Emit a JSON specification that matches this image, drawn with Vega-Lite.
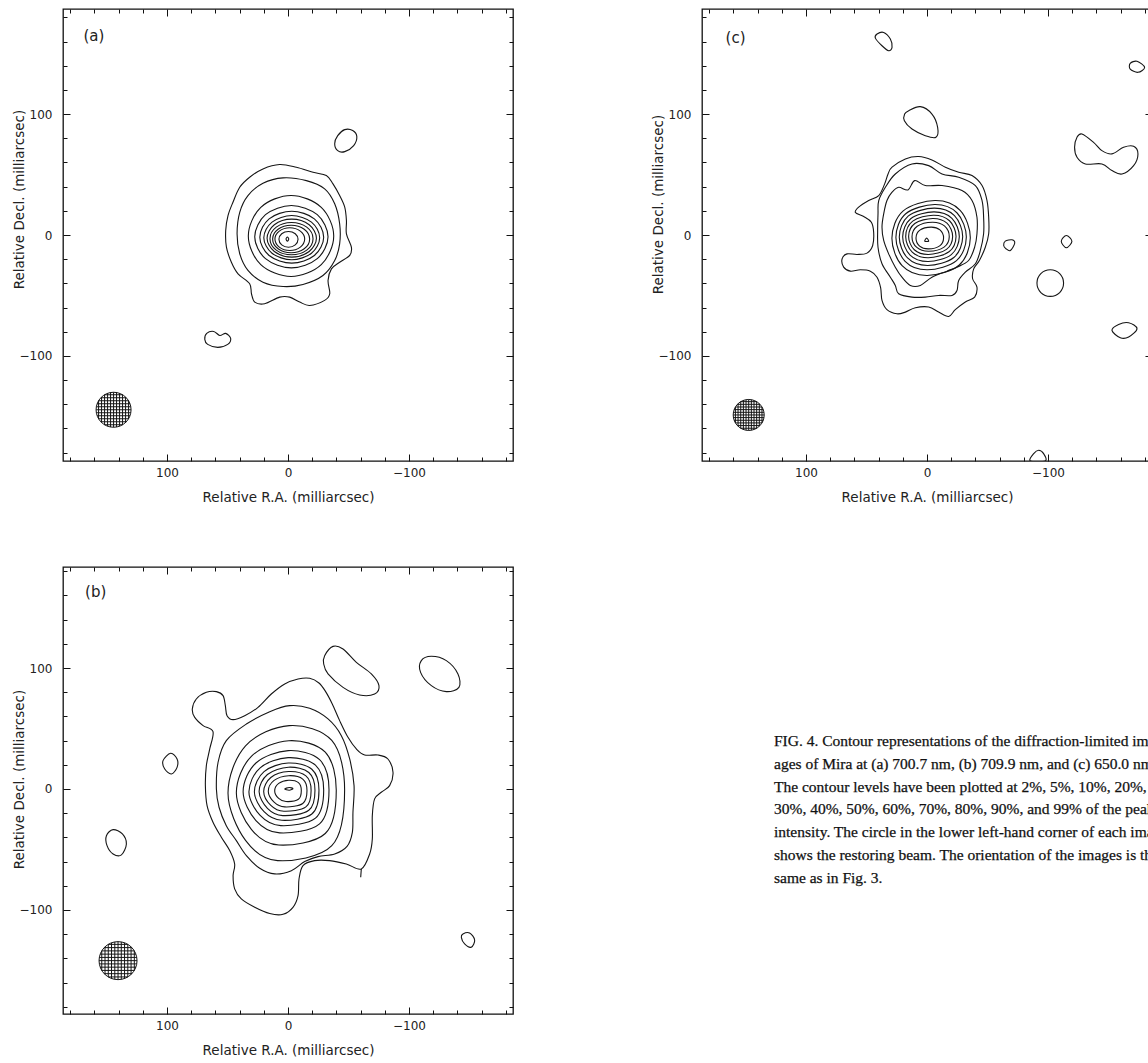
{
"$schema": "https://vega.github.io/schema/vega-lite/v6.json",
"background": "#ffffff",
"padding": {"left": 11, "top": 7, "right": 0, "bottom": 0},
"config": {
 "view": {"stroke": "#111111", "strokeWidth": 1.3},
 "axis": {"domain": false, "grid": false, "ticks": true, "tickColor": "#111111", "tickWidth": 1, "labelFont": "DejaVu Sans", "labelFontSize": 12, "labelColor": "#222222", "labelOverlap": false, "labelFlush": false, "labelBound": false, "titleFont": "DejaVu Sans", "titleFontSize": 13.5, "titleFontWeight": "normal", "titleColor": "#222222"}
},
"datasets": {
 "beam": [{"p":"a","x":144.2,"y":-144.6},{"p":"b","x":140.5,"y":-141.9},{"p":"c","x":147.4,"y":-148.9}],
 "lab": [{"p":"a","t":"(a)","x":160.5,"y":164.5},{"p":"b","t":"(b)","x":159,"y":163},{"p":"c","t":"(c)","x":158.3,"y":163}],
 "cap": [
  {"n":0,"t":"FIG. 4. Contour representations of the diffraction-limited im-"},
  {"n":1,"t":"ages of Mira at (a) 700.7 nm, (b) 709.9 nm, and (c) 650.0 nm."},
  {"n":2,"t":"The contour levels have been plotted at 2%, 5%, 10%, 20%,"},
  {"n":3,"t":"30%, 40%, 50%, 60%, 70%, 80%, 90%, and 99% of the peak"},
  {"n":4,"t":"intensity. The circle in the lower left-hand corner of each image"},
  {"n":5,"t":"shows the restoring beam. The orientation of the images is the"},
  {"n":6,"t":"same as in Fig. 3."}
 ],
 "A": [
  {"c":1,"i":0,"x":6.9,"y":58.3},{"c":1,"i":1,"x":-6.9,"y":56.0},{"c":1,"i":2,"x":-20.7,"y":51.9},{"c":1,"i":3,"x":-31.7,"y":49.2},{"c":1,"i":4,"x":-37.2,"y":42.3},{"c":1,"i":5,"x":-42.7,"y":32.6},{"c":1,"i":6,"x":-46.9,"y":23.0},{"c":1,"i":7,"x":-48.3,"y":12.0},{"c":1,"i":8,"x":-48.3,"y":1.0},{"c":1,"i":9,"x":-52.4,"y":-10.1},{"c":1,"i":10,"x":-51.0,"y":-16.9},{"c":1,"i":11,"x":-42.7,"y":-22.5},{"c":1,"i":12,"x":-35.9,"y":-28.0},{"c":1,"i":13,"x":-33.1,"y":-37.6},{"c":1,"i":14,"x":-34.5,"y":-48.6},{"c":1,"i":15,"x":-30.3,"y":-54.1},{"c":1,"i":16,"x":-17.9,"y":-58.3},{"c":1,"i":17,"x":-9.7,"y":-55.5},{"c":1,"i":18,"x":-1.4,"y":-51.4},{"c":1,"i":19,"x":6.9,"y":-51.4},{"c":1,"i":20,"x":19.3,"y":-56.9},{"c":1,"i":21,"x":27.5,"y":-55.5},{"c":1,"i":22,"x":30.2,"y":-48.6},{"c":1,"i":23,"x":31.7,"y":-40.3},{"c":1,"i":24,"x":41.3,"y":-32.1},{"c":1,"i":25,"x":46.8,"y":-22.5},{"c":1,"i":26,"x":50.9,"y":-10.1},{"c":1,"i":27,"x":51.5,"y":3.7},{"c":1,"i":28,"x":49.6,"y":16.1},{"c":1,"i":29,"x":45.5,"y":27.1},{"c":1,"i":30,"x":39.9,"y":39.5},{"c":1,"i":31,"x":31.7,"y":47.8},{"c":1,"i":32,"x":20.7,"y":54.7},
  {"c":2,"i":0,"x":4.1,"y":47.3},{"c":2,"i":1,"x":-15.2,"y":45.0},{"c":2,"i":2,"x":-30.3,"y":38.2},{"c":2,"i":3,"x":-38.6,"y":25.8},{"c":2,"i":4,"x":-42.7,"y":9.3},{"c":2,"i":5,"x":-42.7,"y":-7.3},{"c":2,"i":6,"x":-38.6,"y":-21.1},{"c":2,"i":7,"x":-28.9,"y":-33.5},{"c":2,"i":8,"x":-12.4,"y":-40.9},{"c":2,"i":9,"x":4.1,"y":-42.6},{"c":2,"i":10,"x":20.7,"y":-39.0},{"c":2,"i":11,"x":33.1,"y":-29.3},{"c":2,"i":12,"x":39.9,"y":-15.5},{"c":2,"i":13,"x":42.1,"y":1.0},{"c":2,"i":14,"x":39.9,"y":18.8},{"c":2,"i":15,"x":33.1,"y":32.6},{"c":2,"i":16,"x":20.7,"y":42.8},
  {"c":3,"i":0,"x":32.8,"y":-0.8},{"c":3,"i":1,"x":22.5,"y":22.9},{"c":3,"i":2,"x":-2.5,"y":32.7},{"c":3,"i":3,"x":-27.5,"y":22.9},{"c":3,"i":4,"x":-37.8,"y":-0.8},{"c":3,"i":5,"x":-27.5,"y":-24.5},{"c":3,"i":6,"x":-2.5,"y":-34.3},{"c":3,"i":7,"x":22.5,"y":-24.5},
  {"c":4,"i":0,"x":27.5,"y":-1.4},{"c":4,"i":1,"x":18.6,"y":16.8},{"c":4,"i":2,"x":-2.8,"y":24.4},{"c":4,"i":3,"x":-24.2,"y":16.8},{"c":4,"i":4,"x":-33.1,"y":-1.4},{"c":4,"i":5,"x":-24.2,"y":-19.6},{"c":4,"i":6,"x":-2.8,"y":-27.2},{"c":4,"i":7,"x":18.6,"y":-19.6},
  {"c":5,"i":0,"x":23.3,"y":-1.8},{"c":5,"i":1,"x":15.6,"y":13.4},{"c":5,"i":2,"x":-3.1,"y":19.7},{"c":5,"i":3,"x":-21.8,"y":13.4},{"c":5,"i":4,"x":-29.5,"y":-1.8},{"c":5,"i":5,"x":-21.8,"y":-17.0},{"c":5,"i":6,"x":-3.1,"y":-23.3},{"c":5,"i":7,"x":15.6,"y":-17.0},
  {"c":6,"i":0,"x":20.0,"y":-2.2},{"c":6,"i":1,"x":13.2,"y":10.7},{"c":6,"i":2,"x":-3.1,"y":16.1},{"c":6,"i":3,"x":-19.4,"y":10.7},{"c":6,"i":4,"x":-26.2,"y":-2.2},{"c":6,"i":5,"x":-19.4,"y":-15.1},{"c":6,"i":6,"x":-3.1,"y":-20.5},{"c":6,"i":7,"x":13.2,"y":-15.1},
  {"c":7,"i":0,"x":17.3,"y":-2.6},{"c":7,"i":1,"x":11.3,"y":8.5},{"c":7,"i":2,"x":-3.1,"y":13.1},{"c":7,"i":3,"x":-17.5,"y":8.5},{"c":7,"i":4,"x":-23.5,"y":-2.6},{"c":7,"i":5,"x":-17.5,"y":-13.7},{"c":7,"i":6,"x":-3.1,"y":-18.3},{"c":7,"i":7,"x":11.3,"y":-13.7},
  {"c":8,"i":0,"x":14.9,"y":-3.0},{"c":8,"i":1,"x":9.7,"y":6.5},{"c":8,"i":2,"x":-2.9,"y":10.4},{"c":8,"i":3,"x":-15.5,"y":6.5},{"c":8,"i":4,"x":-20.7,"y":-3.0},{"c":8,"i":5,"x":-15.5,"y":-12.5},{"c":8,"i":6,"x":-2.9,"y":-16.4},{"c":8,"i":7,"x":9.7,"y":-12.5},
  {"c":9,"i":0,"x":12.7,"y":-3.3},{"c":9,"i":1,"x":8.2,"y":4.8},{"c":9,"i":2,"x":-2.6,"y":8.1},{"c":9,"i":3,"x":-13.4,"y":4.8},{"c":9,"i":4,"x":-17.9,"y":-3.3},{"c":9,"i":5,"x":-13.4,"y":-11.4},{"c":9,"i":6,"x":-2.6,"y":-14.7},{"c":9,"i":7,"x":8.2,"y":-11.4},
  {"c":10,"i":0,"x":10.8,"y":-3.4},{"c":10,"i":1,"x":7.2,"y":3.2},{"c":10,"i":2,"x":-1.5,"y":6.0},{"c":10,"i":3,"x":-10.2,"y":3.2},{"c":10,"i":4,"x":-13.8,"y":-3.4},{"c":10,"i":5,"x":-10.2,"y":-10.0},{"c":10,"i":6,"x":-1.5,"y":-12.8},{"c":10,"i":7,"x":7.2,"y":-10.0},
  {"c":11,"i":0,"x":7.5,"y":-3.6},{"c":11,"i":1,"x":5.2,"y":1.0},{"c":11,"i":2,"x":-0.4,"y":2.9},{"c":11,"i":3,"x":-6.0,"y":1.0},{"c":11,"i":4,"x":-8.3,"y":-3.6},{"c":11,"i":5,"x":-6.0,"y":-8.2},{"c":11,"i":6,"x":-0.4,"y":-10.1},{"c":11,"i":7,"x":5.2,"y":-8.2},
  {"c":12,"i":0,"x":1.6,"y":-3.4},{"c":12,"i":1,"x":0.5,"y":-1.7},{"c":12,"i":2,"x":-0.6,"y":-3.4},{"c":12,"i":3,"x":0.5,"y":-5.1},
  {"c":13,"i":0,"x":-41.1,"y":82.2},{"c":13,"i":1,"x":-46.9,"y":87.2},{"c":13,"i":2,"x":-53.5,"y":86.4},{"c":13,"i":3,"x":-56.9,"y":81.4},{"c":13,"i":4,"x":-54.3,"y":74.0},{"c":13,"i":5,"x":-46.9,"y":69.0},{"c":13,"i":6,"x":-41.1,"y":69.8},{"c":13,"i":7,"x":-38.6,"y":75.6},
  {"c":14,"i":0,"x":67.2,"y":-81.4},{"c":14,"i":1,"x":61.4,"y":-79.8},{"c":14,"i":2,"x":56.4,"y":-83.1},{"c":14,"i":3,"x":51.5,"y":-81.4},{"c":14,"i":4,"x":47.4,"y":-85.5},{"c":14,"i":5,"x":49.8,"y":-90.5},{"c":14,"i":6,"x":58.1,"y":-93.0},{"c":14,"i":7,"x":66.4,"y":-90.5},{"c":14,"i":8,"x":68.8,"y":-86.4}
 ],
 "B": [
  {"c":1,"i":0,"x":62.0,"y":47.4},{"c":1,"i":1,"x":70.2,"y":52.4},{"c":1,"i":2,"x":77.1,"y":59.2},{"c":1,"i":3,"x":79.1,"y":66.1},{"c":1,"i":4,"x":75.8,"y":74.4},{"c":1,"i":5,"x":67.5,"y":79.9},{"c":1,"i":6,"x":59.2,"y":80.5},{"c":1,"i":7,"x":53.7,"y":77.2},{"c":1,"i":8,"x":51.8,"y":68.9},{"c":1,"i":9,"x":50.4,"y":60.6},{"c":1,"i":10,"x":45.4,"y":57.3},{"c":1,"i":11,"x":35.8,"y":60.6},{"c":1,"i":12,"x":24.8,"y":67.5},{"c":1,"i":13,"x":13.8,"y":78.5},{"c":1,"i":14,"x":2.7,"y":86.8},{"c":1,"i":15,"x":-8.3,"y":90.9},{"c":1,"i":16,"x":-17.9,"y":91.5},{"c":1,"i":17,"x":-25.6,"y":87.6},{"c":1,"i":18,"x":-31.1,"y":80.5},{"c":1,"i":19,"x":-36.6,"y":70.3},{"c":1,"i":20,"x":-42.7,"y":56.5},{"c":1,"i":21,"x":-49.6,"y":42.7},{"c":1,"i":22,"x":-56.5,"y":33.1},{"c":1,"i":23,"x":-63.4,"y":28.1},{"c":1,"i":24,"x":-74.4,"y":28.1},{"c":1,"i":25,"x":-82.6,"y":24.8},{"c":1,"i":26,"x":-86.8,"y":13.8},{"c":1,"i":27,"x":-84.0,"y":2.8},{"c":1,"i":28,"x":-77.1,"y":-2.7},{"c":1,"i":29,"x":-71.6,"y":-8.2},{"c":1,"i":30,"x":-69.7,"y":-22.0},{"c":1,"i":31,"x":-69.7,"y":-41.3},{"c":1,"i":32,"x":-67.5,"y":-53.7},{"c":1,"i":33,"x":-60.6,"y":-66.1},{"c":1,"i":34,"x":-48.2,"y":-62.0},{"c":1,"i":35,"x":-34.4,"y":-59.2},{"c":1,"i":36,"x":-22.0,"y":-59.2},{"c":1,"i":37,"x":-12.4,"y":-63.3},{"c":1,"i":38,"x":-9.1,"y":-74.4},{"c":1,"i":39,"x":-8.3,"y":-88.1},{"c":1,"i":40,"x":-4.1,"y":-97.8},{"c":1,"i":41,"x":4.1,"y":-103.6},{"c":1,"i":42,"x":15.1,"y":-103.0},{"c":1,"i":43,"x":27.5,"y":-97.8},{"c":1,"i":44,"x":38.6,"y":-90.9},{"c":1,"i":45,"x":44.1,"y":-82.6},{"c":1,"i":46,"x":45.4,"y":-71.6},{"c":1,"i":47,"x":44.1,"y":-62.0},{"c":1,"i":48,"x":48.2,"y":-50.9},{"c":1,"i":49,"x":55.1,"y":-39.9},{"c":1,"i":50,"x":62.0,"y":-27.5},{"c":1,"i":51,"x":66.9,"y":-13.8},{"c":1,"i":52,"x":68.3,"y":2.8},{"c":1,"i":53,"x":67.5,"y":19.3},{"c":1,"i":54,"x":64.7,"y":33.1},
  {"c":2,"i":0,"x":59.2,"y":0.0},{"c":2,"i":1,"x":57.8,"y":22.1},{"c":2,"i":2,"x":51.0,"y":40.0},{"c":2,"i":3,"x":34.4,"y":53.7},{"c":2,"i":4,"x":15.1,"y":63.9},{"c":2,"i":5,"x":-1.4,"y":68.9},{"c":2,"i":6,"x":-17.9,"y":66.7},{"c":2,"i":7,"x":-33.1,"y":57.9},{"c":2,"i":8,"x":-44.1,"y":44.1},{"c":2,"i":9,"x":-51.0,"y":24.8},{"c":2,"i":10,"x":-54.6,"y":2.8},{"c":2,"i":11,"x":-53.7,"y":-19.3},{"c":2,"i":12,"x":-53.2,"y":-35.8},{"c":2,"i":13,"x":-48.8,"y":-47.4},{"c":2,"i":14,"x":-38.6,"y":-53.7},{"c":2,"i":15,"x":-24.8,"y":-55.9},{"c":2,"i":16,"x":-13.8,"y":-60.0},{"c":2,"i":17,"x":-2.8,"y":-67.5},{"c":2,"i":18,"x":11.0,"y":-70.2},{"c":2,"i":19,"x":23.4,"y":-65.5},{"c":2,"i":20,"x":34.4,"y":-55.1},{"c":2,"i":21,"x":42.7,"y":-42.7},{"c":2,"i":22,"x":51.0,"y":-30.3},{"c":2,"i":23,"x":57.0,"y":-15.1},
  {"c":3,"i":0,"x":49.6,"y":-3.4},{"c":3,"i":1,"x":35.1,"y":35.7},{"c":3,"i":2,"x":-1.0,"y":52.4},{"c":3,"i":3,"x":-36.2,"y":40.1},{"c":3,"i":4,"x":-46.8,"y":-0.6},{"c":3,"i":5,"x":-36.2,"y":-46.9},{"c":3,"i":6,"x":8.6,"y":-59.2},{"c":3,"i":7,"x":35.1,"y":-42.5},
  {"c":4,"i":0,"x":42.7,"y":-3.2},{"c":4,"i":1,"x":30.3,"y":27.0},{"c":4,"i":2,"x":-0.7,"y":39.9},{"c":4,"i":3,"x":-30.8,"y":30.4},{"c":4,"i":4,"x":-39.9,"y":-1.0},{"c":4,"i":5,"x":-30.8,"y":-36.8},{"c":4,"i":6,"x":7.6,"y":-46.3},{"c":4,"i":7,"x":30.3,"y":-33.4},
  {"c":5,"i":0,"x":37.1,"y":-2.3},{"c":5,"i":1,"x":26.5,"y":21.5},{"c":5,"i":2,"x":-0.2,"y":31.7},{"c":5,"i":3,"x":-26.1,"y":24.2},{"c":5,"i":4,"x":-33.9,"y":-0.6},{"c":5,"i":5,"x":-26.1,"y":-28.8},{"c":5,"i":6,"x":6.9,"y":-36.3},{"c":5,"i":7,"x":26.5,"y":-26.1},
  {"c":6,"i":0,"x":32.3,"y":-2.2},{"c":6,"i":1,"x":23.0,"y":17.5},{"c":6,"i":2,"x":-0.1,"y":25.9},{"c":6,"i":3,"x":-22.7,"y":19.7},{"c":6,"i":4,"x":-29.5,"y":-0.8},{"c":6,"i":5,"x":-22.7,"y":-24.1},{"c":6,"i":6,"x":6.0,"y":-30.3},{"c":6,"i":7,"x":23.0,"y":-21.9},
  {"c":7,"i":0,"x":27.8,"y":-2.2},{"c":7,"i":1,"x":19.8,"y":14.4},{"c":7,"i":2,"x":-0.2,"y":21.5},{"c":7,"i":3,"x":-19.7,"y":16.3},{"c":7,"i":4,"x":-25.6,"y":-1.0},{"c":7,"i":5,"x":-19.7,"y":-20.7},{"c":7,"i":6,"x":5.1,"y":-25.9},{"c":7,"i":7,"x":19.8,"y":-18.8},
  {"c":8,"i":0,"x":23.9,"y":-2.0},{"c":8,"i":1,"x":17.0,"y":12.0},{"c":8,"i":2,"x":-0.4,"y":18.0},{"c":8,"i":3,"x":-17.2,"y":13.6},{"c":8,"i":4,"x":-22.3,"y":-1.0},{"c":8,"i":5,"x":-17.2,"y":-17.6},{"c":8,"i":6,"x":4.3,"y":-22.0},{"c":8,"i":7,"x":17.0,"y":-16.0},
  {"c":9,"i":0,"x":20.1,"y":-2.0},{"c":9,"i":1,"x":14.2,"y":9.5},{"c":9,"i":2,"x":-0.5,"y":14.4},{"c":9,"i":3,"x":-14.8,"y":10.8},{"c":9,"i":4,"x":-19.1,"y":-1.2},{"c":9,"i":5,"x":-14.8,"y":-14.8},{"c":9,"i":6,"x":3.4,"y":-18.4},{"c":9,"i":7,"x":14.2,"y":-13.5},
  {"c":10,"i":0,"x":16.3,"y":-1.9},{"c":10,"i":1,"x":11.5,"y":7.1},{"c":10,"i":2,"x":-0.5,"y":11.0},{"c":10,"i":3,"x":-12.2,"y":8.2},{"c":10,"i":4,"x":-15.7,"y":-1.3},{"c":10,"i":5,"x":-12.2,"y":-12.0},{"c":10,"i":6,"x":2.7,"y":-14.8},{"c":10,"i":7,"x":11.5,"y":-10.9},
  {"c":11,"i":0,"x":11.0,"y":-1.6},{"c":11,"i":1,"x":7.7,"y":4.6},{"c":11,"i":2,"x":-0.6,"y":7.2},{"c":11,"i":3,"x":-8.6,"y":5.3},{"c":11,"i":4,"x":-11.0,"y":-1.2},{"c":11,"i":5,"x":-8.6,"y":-8.5},{"c":11,"i":6,"x":1.7,"y":-10.4},{"c":11,"i":7,"x":7.7,"y":-7.8},
  {"c":12,"i":0,"x":2.7,"y":0.0},{"c":12,"i":1,"x":-1.0,"y":1.2},{"c":12,"i":2,"x":-4.1,"y":0.3},{"c":12,"i":3,"x":-1.0,"y":-1.0},
  {"c":13,"i":0,"x":-30.3,"y":110.2},{"c":13,"i":1,"x":-37.2,"y":117.9},{"c":13,"i":2,"x":-45.5,"y":115.7},{"c":13,"i":3,"x":-56.5,"y":104.7},{"c":13,"i":4,"x":-68.9,"y":95.1},{"c":13,"i":5,"x":-75.2,"y":85.4},{"c":13,"i":6,"x":-71.6,"y":78.5},{"c":13,"i":7,"x":-59.2,"y":77.7},{"c":13,"i":8,"x":-45.5,"y":84.0},{"c":13,"i":9,"x":-33.1,"y":95.1},{"c":13,"i":10,"x":-29.5,"y":103.3},
  {"c":14,"i":0,"x":-110.2,"y":106.1},{"c":14,"i":1,"x":-118.5,"y":109.7},{"c":14,"i":2,"x":-130.9,"y":106.1},{"c":14,"i":3,"x":-140.5,"y":95.1},{"c":14,"i":4,"x":-141.3,"y":84.0},{"c":14,"i":5,"x":-130.9,"y":80.5},{"c":14,"i":6,"x":-118.5,"y":85.4},{"c":14,"i":7,"x":-109.6,"y":96.4},
  {"c":15,"i":0,"x":97.0,"y":29.5},{"c":15,"i":1,"x":91.7,"y":24.8},{"c":15,"i":2,"x":91.7,"y":17.9},{"c":15,"i":3,"x":96.4,"y":12.4},{"c":15,"i":4,"x":101.9,"y":16.5},{"c":15,"i":5,"x":103.3,"y":23.4},
  {"c":16,"i":0,"x":144.6,"y":-33.6},{"c":16,"i":1,"x":136.9,"y":-37.2},{"c":16,"i":2,"x":133.6,"y":-45.4},{"c":16,"i":3,"x":137.7,"y":-54.5},{"c":16,"i":4,"x":144.6,"y":-53.7},{"c":16,"i":5,"x":149.6,"y":-46.8},{"c":16,"i":6,"x":150.1,"y":-38.6},
  {"c":17,"i":0,"x":-144.6,"y":-119.8},{"c":17,"i":1,"x":-150.1,"y":-119.0},{"c":17,"i":2,"x":-154.3,"y":-124.8},{"c":17,"i":3,"x":-151.5,"y":-130.8},{"c":17,"i":4,"x":-146.0,"y":-128.1},{"c":17,"i":5,"x":-143.3,"y":-122.6},
  {"c":18,"i":0,"x":-60.6,"y":-66.1},{"c":18,"i":1,"x":-60.1,"y":-73.0}
 ],
 "C": [
  {"c":1,"i":0,"x":28.9,"y":56.1},{"c":1,"i":1,"x":17.9,"y":62.9},{"c":1,"i":2,"x":6.9,"y":64.9},{"c":1,"i":3,"x":-4.1,"y":62.1},{"c":1,"i":4,"x":-15.2,"y":56.1},{"c":1,"i":5,"x":-26.2,"y":51.9},{"c":1,"i":6,"x":-37.2,"y":49.2},{"c":1,"i":7,"x":-45.5,"y":40.9},{"c":1,"i":8,"x":-49.6,"y":28.5},{"c":1,"i":9,"x":-51.0,"y":14.7},{"c":1,"i":10,"x":-51.0,"y":1.0},{"c":1,"i":11,"x":-48.2,"y":-10.1},{"c":1,"i":12,"x":-43.3,"y":-21.1},{"c":1,"i":13,"x":-38.6,"y":-28.0},{"c":1,"i":14,"x":-37.7,"y":-36.2},{"c":1,"i":15,"x":-41.3,"y":-43.1},{"c":1,"i":16,"x":-39.4,"y":-51.4},{"c":1,"i":17,"x":-31.7,"y":-55.5},{"c":1,"i":18,"x":-23.4,"y":-61.8},{"c":1,"i":19,"x":-17.9,"y":-67.4},{"c":1,"i":20,"x":-9.6,"y":-63.8},{"c":1,"i":21,"x":-1.4,"y":-59.6},{"c":1,"i":22,"x":9.6,"y":-60.2},{"c":1,"i":23,"x":17.9,"y":-63.8},{"c":1,"i":24,"x":24.8,"y":-65.2},{"c":1,"i":25,"x":33.1,"y":-61.8},{"c":1,"i":26,"x":37.2,"y":-54.1},{"c":1,"i":27,"x":38.3,"y":-43.7},{"c":1,"i":28,"x":41.3,"y":-34.9},{"c":1,"i":29,"x":46.8,"y":-29.9},{"c":1,"i":30,"x":55.1,"y":-28.8},{"c":1,"i":31,"x":63.4,"y":-29.9},{"c":1,"i":32,"x":68.9,"y":-26.6},{"c":1,"i":33,"x":70.2,"y":-19.7},{"c":1,"i":34,"x":66.1,"y":-15.6},{"c":1,"i":35,"x":57.8,"y":-16.1},{"c":1,"i":36,"x":49.6,"y":-15.0},{"c":1,"i":37,"x":44.9,"y":-8.7},{"c":1,"i":38,"x":44.1,"y":2.3},{"c":1,"i":39,"x":46.0,"y":10.6},{"c":1,"i":40,"x":52.3,"y":15.3},{"c":1,"i":41,"x":59.2,"y":18.6},{"c":1,"i":42,"x":56.5,"y":23.0},{"c":1,"i":43,"x":48.2,"y":28.5},{"c":1,"i":44,"x":39.9,"y":32.6},{"c":1,"i":45,"x":35.0,"y":42.3},{"c":1,"i":46,"x":32.2,"y":50.5},
  {"c":2,"i":0,"x":12.4,"y":58.8},{"c":2,"i":1,"x":-1.4,"y":57.4},{"c":2,"i":2,"x":-12.4,"y":50.5},{"c":2,"i":3,"x":-26.2,"y":47.8},{"c":2,"i":4,"x":-40.0,"y":40.9},{"c":2,"i":5,"x":-45.5,"y":28.5},{"c":2,"i":6,"x":-46.8,"y":14.7},{"c":2,"i":7,"x":-46.8,"y":1.0},{"c":2,"i":8,"x":-44.1,"y":-12.8},{"c":2,"i":9,"x":-40.0,"y":-23.8},{"c":2,"i":10,"x":-31.7,"y":-30.7},{"c":2,"i":11,"x":-26.2,"y":-37.6},{"c":2,"i":12,"x":-24.8,"y":-45.9},{"c":2,"i":13,"x":-20.7,"y":-50.0},{"c":2,"i":14,"x":-9.6,"y":-50.0},{"c":2,"i":15,"x":1.4,"y":-51.4},{"c":2,"i":16,"x":12.4,"y":-51.4},{"c":2,"i":17,"x":23.4,"y":-48.6},{"c":2,"i":18,"x":26.2,"y":-41.7},{"c":2,"i":19,"x":30.3,"y":-34.9},{"c":2,"i":20,"x":37.2,"y":-23.8},{"c":2,"i":21,"x":40.5,"y":-10.1},{"c":2,"i":22,"x":40.8,"y":3.7},{"c":2,"i":23,"x":40.5,"y":17.5},{"c":2,"i":24,"x":39.9,"y":28.5},{"c":2,"i":25,"x":34.4,"y":39.5},{"c":2,"i":26,"x":26.2,"y":50.5},
  {"c":3,"i":0,"x":23.4,"y":39.5},{"c":3,"i":1,"x":15.7,"y":37.3},{"c":3,"i":2,"x":10.2,"y":45.0},{"c":3,"i":3,"x":1.4,"y":40.9},{"c":3,"i":4,"x":-12.4,"y":40.9},{"c":3,"i":5,"x":-28.9,"y":36.8},{"c":3,"i":6,"x":-37.2,"y":28.5},{"c":3,"i":7,"x":-41.3,"y":14.7},{"c":3,"i":8,"x":-41.3,"y":1.0},{"c":3,"i":9,"x":-39.4,"y":-10.1},{"c":3,"i":10,"x":-34.4,"y":-21.1},{"c":3,"i":11,"x":-24.8,"y":-26.6},{"c":3,"i":12,"x":-16.5,"y":-29.9},{"c":3,"i":13,"x":-4.1,"y":-34.9},{"c":3,"i":14,"x":5.5,"y":-41.7},{"c":3,"i":15,"x":13.8,"y":-41.7},{"c":3,"i":16,"x":20.7,"y":-34.9},{"c":3,"i":17,"x":26.2,"y":-26.6},{"c":3,"i":18,"x":31.7,"y":-15.6},{"c":3,"i":19,"x":35.8,"y":-4.5},{"c":3,"i":20,"x":37.2,"y":6.5},{"c":3,"i":21,"x":35.8,"y":17.5},{"c":3,"i":22,"x":33.1,"y":28.5},{"c":3,"i":23,"x":28.9,"y":35.4},
  {"c":4,"i":0,"x":29.0,"y":-2.5},{"c":4,"i":1,"x":19.9,"y":19.8},{"c":4,"i":2,"x":-6.6,"y":28.5},{"c":4,"i":3,"x":-27.4,"y":20.4},{"c":4,"i":4,"x":-35.8,"y":-2.5},{"c":4,"i":5,"x":-26.7,"y":-24.8},{"c":4,"i":6,"x":-0.2,"y":-33.5},{"c":4,"i":7,"x":20.6,"y":-25.4},
  {"c":5,"i":0,"x":25.7,"y":-1.8},{"c":5,"i":1,"x":17.6,"y":17.6},{"c":5,"i":2,"x":-6.3,"y":25.2},{"c":5,"i":3,"x":-24.9,"y":18.2},{"c":5,"i":4,"x":-32.5,"y":-1.8},{"c":5,"i":5,"x":-24.4,"y":-21.2},{"c":5,"i":6,"x":-0.5,"y":-28.8},{"c":5,"i":7,"x":18.1,"y":-21.8},
  {"c":6,"i":0,"x":22.9,"y":-1.5},{"c":6,"i":1,"x":15.6,"y":15.6},{"c":6,"i":2,"x":-5.9,"y":22.2},{"c":6,"i":3,"x":-22.7,"y":16.0},{"c":6,"i":4,"x":-29.5,"y":-1.5},{"c":6,"i":5,"x":-22.2,"y":-18.6},{"c":6,"i":6,"x":-0.7,"y":-25.2},{"c":6,"i":7,"x":16.1,"y":-19.0},
  {"c":7,"i":0,"x":20.1,"y":-1.4},{"c":7,"i":1,"x":13.5,"y":13.4},{"c":7,"i":2,"x":-5.6,"y":19.1},{"c":7,"i":3,"x":-20.6,"y":13.8},{"c":7,"i":4,"x":-26.7,"y":-1.4},{"c":7,"i":5,"x":-20.1,"y":-16.2},{"c":7,"i":6,"x":-1.0,"y":-21.9},{"c":7,"i":7,"x":14.0,"y":-16.6},
  {"c":8,"i":0,"x":17.6,"y":-1.2},{"c":8,"i":1,"x":11.8,"y":11.5},{"c":8,"i":2,"x":-5.3,"y":16.4},{"c":8,"i":3,"x":-18.6,"y":11.8},{"c":8,"i":4,"x":-24.0,"y":-1.2},{"c":8,"i":5,"x":-18.2,"y":-13.9},{"c":8,"i":6,"x":-1.1,"y":-18.8},{"c":8,"i":7,"x":12.2,"y":-14.2},
  {"c":9,"i":0,"x":15.2,"y":-1.2},{"c":9,"i":1,"x":10.1,"y":9.5},{"c":9,"i":2,"x":-4.8,"y":13.7},{"c":9,"i":3,"x":-16.5,"y":9.8},{"c":9,"i":4,"x":-21.2,"y":-1.2},{"c":9,"i":5,"x":-16.1,"y":-11.9},{"c":9,"i":6,"x":-1.2,"y":-16.1},{"c":9,"i":7,"x":10.5,"y":-12.2},
  {"c":10,"i":0,"x":12.4,"y":-1.4},{"c":10,"i":1,"x":8.1,"y":7.2},{"c":10,"i":2,"x":-4.5,"y":10.6},{"c":10,"i":3,"x":-14.4,"y":7.5},{"c":10,"i":4,"x":-18.4,"y":-1.4},{"c":10,"i":5,"x":-14.1,"y":-10.0},{"c":10,"i":6,"x":-1.5,"y":-13.4},{"c":10,"i":7,"x":8.4,"y":-10.3},
  {"c":11,"i":0,"x":9.1,"y":-2.5},{"c":11,"i":1,"x":5.9,"y":4.0},{"c":11,"i":2,"x":-3.4,"y":6.5},{"c":11,"i":3,"x":-10.7,"y":4.2},{"c":11,"i":4,"x":-13.7,"y":-2.5},{"c":11,"i":5,"x":-10.5,"y":-9.0},{"c":11,"i":6,"x":-1.2,"y":-11.5},{"c":11,"i":7,"x":6.1,"y":-9.2},
  {"c":12,"i":0,"x":1.9,"y":-5.1},{"c":12,"i":1,"x":0.3,"y":-2.6},{"c":12,"i":2,"x":-1.4,"y":-5.1},
  {"c":13,"i":0,"x":41.3,"y":166.3},{"c":13,"i":1,"x":35.8,"y":167.6},{"c":13,"i":2,"x":30.3,"y":162.1},{"c":13,"i":3,"x":28.9,"y":155.2},{"c":13,"i":4,"x":31.7,"y":152.5},{"c":13,"i":5,"x":37.2,"y":156.6},{"c":13,"i":6,"x":42.7,"y":162.9},
  {"c":14,"i":0,"x":-168.0,"y":142.0},{"c":14,"i":1,"x":-173.6,"y":143.7},{"c":14,"i":2,"x":-179.9,"y":138.7},{"c":14,"i":3,"x":-174.4,"y":134.6},{"c":14,"i":4,"x":-168.0,"y":137.3},
  {"c":15,"i":0,"x":15.1,"y":102.9},{"c":15,"i":1,"x":5.5,"y":106.2},{"c":15,"i":2,"x":-4.1,"y":100.1},{"c":15,"i":3,"x":-8.8,"y":89.1},{"c":15,"i":4,"x":-7.4,"y":80.9},{"c":15,"i":5,"x":1.4,"y":82.2},{"c":15,"i":6,"x":12.4,"y":87.7},{"c":15,"i":7,"x":18.7,"y":94.6},{"c":15,"i":8,"x":18.5,"y":100.1},
  {"c":16,"i":0,"x":-124.0,"y":80.9},{"c":16,"i":1,"x":-128.1,"y":83.6},{"c":16,"i":2,"x":-137.7,"y":76.7},{"c":16,"i":3,"x":-144.6,"y":69.8},{"c":16,"i":4,"x":-152.9,"y":67.1},{"c":16,"i":5,"x":-162.5,"y":72.6},{"c":16,"i":6,"x":-170.8,"y":73.4},{"c":16,"i":7,"x":-174.4,"y":67.1},{"c":16,"i":8,"x":-170.8,"y":57.4},{"c":16,"i":9,"x":-161.2,"y":50.5},{"c":16,"i":10,"x":-152.9,"y":53.3},{"c":16,"i":11,"x":-144.6,"y":58.8},{"c":16,"i":12,"x":-130.9,"y":58.8},{"c":16,"i":13,"x":-124.0,"y":64.3},{"c":16,"i":14,"x":-122.0,"y":72.6},
  {"c":17,"i":0,"x":-64.7,"y":-5.1},{"c":17,"i":1,"x":-70.3,"y":-4.0},{"c":17,"i":2,"x":-72.5,"y":-6.8},{"c":17,"i":3,"x":-68.9,"y":-12.8},{"c":17,"i":4,"x":-65.3,"y":-11.4},{"c":17,"i":5,"x":-63.4,"y":-8.7},
  {"c":18,"i":0,"x":-115.2,"y":-0.4},{"c":18,"i":1,"x":-119.8,"y":-5.1},{"c":18,"i":2,"x":-115.2,"y":-10.6},{"c":18,"i":3,"x":-111.0,"y":-5.1},
  {"c":19,"i":0,"x":-90.9,"y":-39.8},{"c":19,"i":1,"x":-94.1,"y":-32.0},{"c":19,"i":2,"x":-101.9,"y":-28.8},{"c":19,"i":3,"x":-109.7,"y":-32.0},{"c":19,"i":4,"x":-112.9,"y":-39.8},{"c":19,"i":5,"x":-109.7,"y":-47.6},{"c":19,"i":6,"x":-101.9,"y":-50.8},{"c":19,"i":7,"x":-94.1,"y":-47.6},
  {"c":20,"i":0,"x":-152.9,"y":-78.9},{"c":20,"i":1,"x":-158.4,"y":-74.0},{"c":20,"i":2,"x":-166.7,"y":-72.6},{"c":20,"i":3,"x":-173.6,"y":-77.5},{"c":20,"i":4,"x":-166.7,"y":-84.4},{"c":20,"i":5,"x":-159.8,"y":-85.0},
  {"c":21,"i":0,"x":-85.4,"y":-186.9},{"c":21,"i":1,"x":-88.2,"y":-180.9},{"c":21,"i":2,"x":-92.3,"y":-178.1},{"c":21,"i":3,"x":-96.4,"y":-180.9},{"c":21,"i":4,"x":-97.8,"y":-186.9}
 ]
},
"spacing": 59,
"vconcat": [
 {"spacing": 135, "hconcat": [
  {"width": 450, "height": 452,
   "layer": [
    {"data": {"name": "A"}, "mark": {"type": "line", "interpolate": "cardinal-closed", "color": "#151515", "strokeWidth": 1.1, "clip": true},
     "encoding": {
      "x": {"field": "x", "type": "quantitative", "scale": {"domain": [-186, 186], "reverse": true, "nice": false, "zero": false},
            "axis": {"orient": "bottom", "title": "Relative R.A. (milliarcsec)", "values": [-180,-160,-140,-120,-100,-80,-60,-40,-20,0,20,40,60,80,100,120,140,160,180], "labelExpr": "datum.value === 100 ? '100' : datum.value === 0 ? '0' : datum.value === -100 ? '−100' : ''", "tickSize": {"condition": {"test": "datum.value % 100 === 0", "value": -7}, "value": -4}, "labelPadding": 13.5, "titlePadding": 9}},
      "y": {"field": "y", "type": "quantitative", "scale": {"domain": [-187, 187], "nice": false, "zero": false},
            "axis": {"orient": "left", "title": "Relative Decl. (milliarcsec)", "values": [-180,-160,-140,-120,-100,-80,-60,-40,-20,0,20,40,60,80,100,120,140,160,180], "labelExpr": "datum.value === 100 ? '100' : datum.value === 0 ? '0' : datum.value === -100 ? '−100' : ''", "tickSize": {"condition": {"test": "datum.value % 100 === 0", "value": -7}, "value": -4}, "labelPadding": 18, "titlePadding": -7, "titleY": 190}},
      "detail": {"field": "c", "type": "nominal"},
      "order": {"field": "i", "type": "quantitative"}}},
    {"data": {"name": "beam"}, "transform": [{"filter": "datum.p === 'a'"}],
     "mark": {"type": "point", "shape": "M1,0C1,0.552,0.552,1,0,1C-0.552,1,-1,0.552,-1,0C-1,-0.552,-0.552,-1,0,-1C0.552,-1,1,-0.552,1,0ZM-1,0L1,0M-0.985,-0.171L0.985,-0.171M-0.985,0.171L0.985,0.171M-0.939,-0.343L0.939,-0.343M-0.939,0.343L0.939,0.343M-0.858,-0.514L0.858,-0.514M-0.858,0.514L0.858,0.514M-0.728,-0.686L0.728,-0.686M-0.728,0.686L0.728,0.686M-0.515,-0.857L0.515,-0.857M-0.515,0.857L0.515,0.857M0,-1L0,1M-0.171,-0.985L-0.171,0.985M0.171,-0.985L0.171,0.985M-0.343,-0.939L-0.343,0.939M0.343,-0.939L0.343,0.939M-0.514,-0.858L-0.514,0.858M0.514,-0.858L0.514,0.858M-0.686,-0.728L-0.686,0.728M0.686,-0.728L0.686,0.728M-0.857,-0.515L-0.857,0.515M0.857,-0.515L0.857,0.515", "size": 1225, "filled": false, "stroke": "#151515", "strokeWidth": 1, "opacity": 1},
     "encoding": {
      "x": {"field": "x", "type": "quantitative", "scale": {"domain": [-186, 186], "reverse": true, "nice": false, "zero": false},
            "axis": {"orient": "top", "labels": false, "title": null, "values": [-180,-160,-140,-120,-100,-80,-60,-40,-20,0,20,40,60,80,100,120,140,160,180], "tickSize": {"condition": {"test": "datum.value % 100 === 0", "value": -7}, "value": -4}}},
      "y": {"field": "y", "type": "quantitative", "scale": {"domain": [-187, 187], "nice": false, "zero": false},
            "axis": {"orient": "right", "labels": false, "title": null, "values": [-180,-160,-140,-120,-100,-80,-60,-40,-20,0,20,40,60,80,100,120,140,160,180], "tickSize": {"condition": {"test": "datum.value % 100 === 0", "value": -7}, "value": -4}}}}},
    {"data": {"name": "lab"}, "transform": [{"filter": "datum.p === 'a'"}],
     "mark": {"type": "text", "font": "DejaVu Sans", "fontSize": 15, "color": "#222222", "align": "center", "baseline": "middle"},
     "encoding": {
      "x": {"field": "x", "type": "quantitative", "scale": {"domain": [-186, 186], "reverse": true, "nice": false, "zero": false}, "axis": null},
      "y": {"field": "y", "type": "quantitative", "scale": {"domain": [-187, 187], "nice": false, "zero": false}, "axis": null},
      "text": {"field": "t"}}}
   ],
   "resolve": {"axis": {"x": "independent", "y": "independent"}}
  },
  {"width": 450, "height": 452,
   "layer": [
    {"data": {"name": "C"}, "mark": {"type": "line", "interpolate": "cardinal-closed", "color": "#151515", "strokeWidth": 1.1, "clip": true},
     "encoding": {
      "x": {"field": "x", "type": "quantitative", "scale": {"domain": [-186, 186], "reverse": true, "nice": false, "zero": false},
            "axis": {"orient": "bottom", "title": "Relative R.A. (milliarcsec)", "values": [-180,-160,-140,-120,-100,-80,-60,-40,-20,0,20,40,60,80,100,120,140,160,180], "labelExpr": "datum.value === 100 ? '100' : datum.value === 0 ? '0' : datum.value === -100 ? '−100' : ''", "tickSize": {"condition": {"test": "datum.value % 100 === 0", "value": -7}, "value": -4}, "labelPadding": 13.5, "titlePadding": 9}},
      "y": {"field": "y", "type": "quantitative", "scale": {"domain": [-187, 187], "nice": false, "zero": false},
            "axis": {"orient": "left", "title": "Relative Decl. (milliarcsec)", "values": [-180,-160,-140,-120,-100,-80,-60,-40,-20,0,20,40,60,80,100,120,140,160,180], "labelExpr": "datum.value === 100 ? '100' : datum.value === 0 ? '0' : datum.value === -100 ? '−100' : ''", "tickSize": {"condition": {"test": "datum.value % 100 === 0", "value": -7}, "value": -4}, "labelPadding": 18, "titlePadding": -7, "titleY": 195}},
      "detail": {"field": "c", "type": "nominal"},
      "order": {"field": "i", "type": "quantitative"}}},
    {"data": {"name": "beam"}, "transform": [{"filter": "datum.p === 'c'"}],
     "mark": {"type": "point", "shape": "M1,0C1,0.552,0.552,1,0,1C-0.552,1,-1,0.552,-1,0C-1,-0.552,-0.552,-1,0,-1C0.552,-1,1,-0.552,1,0ZM-1,0L1,0M-0.985,-0.171L0.985,-0.171M-0.985,0.171L0.985,0.171M-0.939,-0.343L0.939,-0.343M-0.939,0.343L0.939,0.343M-0.858,-0.514L0.858,-0.514M-0.858,0.514L0.858,0.514M-0.728,-0.686L0.728,-0.686M-0.728,0.686L0.728,0.686M-0.515,-0.857L0.515,-0.857M-0.515,0.857L0.515,0.857M0,-1L0,1M-0.171,-0.985L-0.171,0.985M0.171,-0.985L0.171,0.985M-0.343,-0.939L-0.343,0.939M0.343,-0.939L0.343,0.939M-0.514,-0.858L-0.514,0.858M0.514,-0.858L0.514,0.858M-0.686,-0.728L-0.686,0.728M0.686,-0.728L0.686,0.728M-0.857,-0.515L-0.857,0.515M0.857,-0.515L0.857,0.515", "size": 961, "filled": false, "stroke": "#151515", "strokeWidth": 1, "opacity": 1},
     "encoding": {
      "x": {"field": "x", "type": "quantitative", "scale": {"domain": [-186, 186], "reverse": true, "nice": false, "zero": false},
            "axis": {"orient": "top", "labels": false, "title": null, "values": [-180,-160,-140,-120,-100,-80,-60,-40,-20,0,20,40,60,80,100,120,140,160,180], "tickSize": {"condition": {"test": "datum.value % 100 === 0", "value": -7}, "value": -4}}},
      "y": {"field": "y", "type": "quantitative", "scale": {"domain": [-187, 187], "nice": false, "zero": false},
            "axis": {"orient": "right", "labels": false, "title": null, "values": [-180,-160,-140,-120,-100,-80,-60,-40,-20,0,20,40,60,80,100,120,140,160,180], "tickSize": {"condition": {"test": "datum.value % 100 === 0", "value": -7}, "value": -4}}}}},
    {"data": {"name": "lab"}, "transform": [{"filter": "datum.p === 'c'"}],
     "mark": {"type": "text", "font": "DejaVu Sans", "fontSize": 15, "color": "#222222", "align": "center", "baseline": "middle"},
     "encoding": {
      "x": {"field": "x", "type": "quantitative", "scale": {"domain": [-186, 186], "reverse": true, "nice": false, "zero": false}, "axis": null},
      "y": {"field": "y", "type": "quantitative", "scale": {"domain": [-187, 187], "nice": false, "zero": false}, "axis": null},
      "text": {"field": "t"}}}
   ],
   "resolve": {"axis": {"x": "independent", "y": "independent"}}
  }
 ]},
 {"spacing": 259, "hconcat": [
  {"width": 450, "height": 447,
   "layer": [
    {"data": {"name": "B"}, "mark": {"type": "line", "interpolate": "cardinal-closed", "color": "#151515", "strokeWidth": 1.1, "clip": true},
     "encoding": {
      "x": {"field": "x", "type": "quantitative", "scale": {"domain": [-186, 186], "reverse": true, "nice": false, "zero": false},
            "axis": {"orient": "bottom", "title": "Relative R.A. (milliarcsec)", "values": [-180,-160,-140,-120,-100,-80,-60,-40,-20,0,20,40,60,80,100,120,140,160,180], "labelExpr": "datum.value === 100 ? '100' : datum.value === 0 ? '0' : datum.value === -100 ? '−100' : ''", "tickSize": {"condition": {"test": "datum.value % 100 === 0", "value": -7}, "value": -4}, "labelPadding": 13.5, "titlePadding": 9}},
      "y": {"field": "y", "type": "quantitative", "scale": {"domain": [-186, 183.5], "nice": false, "zero": false},
            "axis": {"orient": "left", "title": "Relative Decl. (milliarcsec)", "values": [-180,-160,-140,-120,-100,-80,-60,-40,-20,0,20,40,60,80,100,120,140,160,180], "labelExpr": "datum.value === 100 ? '100' : datum.value === 0 ? '0' : datum.value === -100 ? '−100' : ''", "tickSize": {"condition": {"test": "datum.value % 100 === 0", "value": -7}, "value": -4}, "labelPadding": 18, "titlePadding": -7, "titleY": 212}},
      "detail": {"field": "c", "type": "nominal"},
      "order": {"field": "i", "type": "quantitative"}}},
    {"data": {"name": "beam"}, "transform": [{"filter": "datum.p === 'b'"}],
     "mark": {"type": "point", "shape": "M1,0C1,0.552,0.552,1,0,1C-0.552,1,-1,0.552,-1,0C-1,-0.552,-0.552,-1,0,-1C0.552,-1,1,-0.552,1,0ZM-1,0L1,0M-0.985,-0.171L0.985,-0.171M-0.985,0.171L0.985,0.171M-0.939,-0.343L0.939,-0.343M-0.939,0.343L0.939,0.343M-0.858,-0.514L0.858,-0.514M-0.858,0.514L0.858,0.514M-0.728,-0.686L0.728,-0.686M-0.728,0.686L0.728,0.686M-0.515,-0.857L0.515,-0.857M-0.515,0.857L0.515,0.857M0,-1L0,1M-0.171,-0.985L-0.171,0.985M0.171,-0.985L0.171,0.985M-0.343,-0.939L-0.343,0.939M0.343,-0.939L0.343,0.939M-0.514,-0.858L-0.514,0.858M0.514,-0.858L0.514,0.858M-0.686,-0.728L-0.686,0.728M0.686,-0.728L0.686,0.728M-0.857,-0.515L-0.857,0.515M0.857,-0.515L0.857,0.515", "size": 1444, "filled": false, "stroke": "#151515", "strokeWidth": 1, "opacity": 1},
     "encoding": {
      "x": {"field": "x", "type": "quantitative", "scale": {"domain": [-186, 186], "reverse": true, "nice": false, "zero": false},
            "axis": {"orient": "top", "labels": false, "title": null, "values": [-180,-160,-140,-120,-100,-80,-60,-40,-20,0,20,40,60,80,100,120,140,160,180], "tickSize": {"condition": {"test": "datum.value % 100 === 0", "value": -7}, "value": -4}}},
      "y": {"field": "y", "type": "quantitative", "scale": {"domain": [-186, 183.5], "nice": false, "zero": false},
            "axis": {"orient": "right", "labels": false, "title": null, "values": [-180,-160,-140,-120,-100,-80,-60,-40,-20,0,20,40,60,80,100,120,140,160,180], "tickSize": {"condition": {"test": "datum.value % 100 === 0", "value": -7}, "value": -4}}}}},
    {"data": {"name": "lab"}, "transform": [{"filter": "datum.p === 'b'"}],
     "mark": {"type": "text", "font": "DejaVu Sans", "fontSize": 15, "color": "#222222", "align": "center", "baseline": "middle"},
     "encoding": {
      "x": {"field": "x", "type": "quantitative", "scale": {"domain": [-186, 186], "reverse": true, "nice": false, "zero": false}, "axis": null},
      "y": {"field": "y", "type": "quantitative", "scale": {"domain": [-186, 183.5], "nice": false, "zero": false}, "axis": null},
      "text": {"field": "t"}}}
   ],
   "resolve": {"axis": {"x": "independent", "y": "independent"}}
  },
  {"width": 380, "height": {"step": 22.7},
   "view": {"stroke": null},
   "data": {"name": "cap"},
   "mark": {"type": "text", "align": "left", "baseline": "middle", "font": "Liberation Serif", "fontSize": 15.5, "color": "#111111", "stroke": "#111111", "strokeWidth": 0.25, "dy": 163},
   "encoding": {
    "y": {"field": "n", "type": "ordinal", "axis": null},
    "x": {"value": 0},
    "text": {"field": "t"}}
  }
 ]}
]
}
